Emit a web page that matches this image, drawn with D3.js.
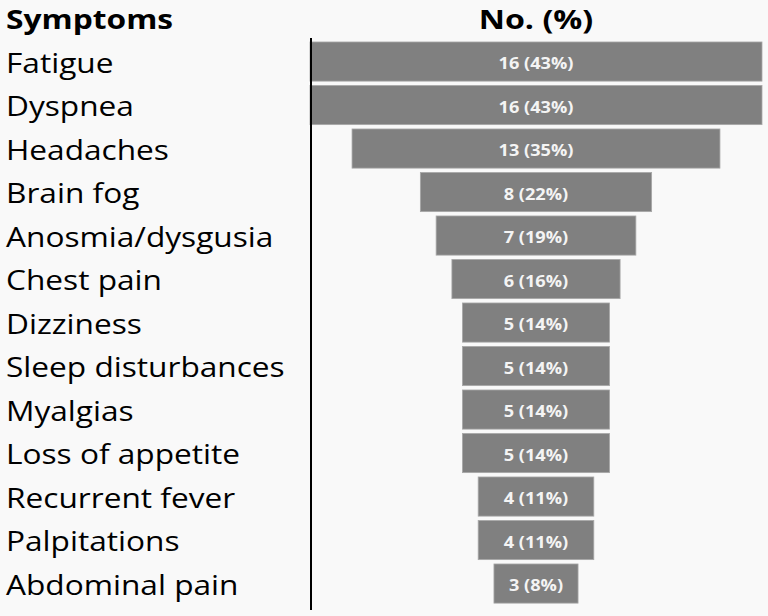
<!DOCTYPE html>
<html>
<head>
<meta charset="utf-8">
<script src="https://cdn.jsdelivr.net/npm/d3@7"></script>
<style>
  body { margin: 0; background: #f9f9f9; }
</style>
</head>
<body>
<div id="vis"></div>
<script>
const w = 768;
const h = 616;

const symptoms = ["Fatigue", "Dyspnea", "Headaches", "Brain fog", "Anosmia/dysgusia", "Chest pain",
    "Dizziness", "Sleep disturbances", "Myalgias", "Loss of appetite", "Recurrent fever",
    "Palpitations", "Abdominal pain"];
const counts = [16, 16, 13, 8, 7, 6, 5, 5, 5, 5, 4, 4, 3];
const percents = [43, 43, 35, 22, 19, 16, 14, 14, 14, 14, 11, 11, 8];

const font = "'Open Sans', sans-serif";
const center = 536;
const axisX = 311;

const svg = d3.select('#vis')
    .append('svg')
    .attr('width', w)
    .attr('height', h)
    .style('background', '#f9f9f9');

let yScale = d3.scaleBand()
    .domain(symptoms)
    .range([39.8, 605.3])
    .paddingInner(0.1)
    .paddingOuter(0.05);

// bar width proportional to percent, centred on one column
let wScale = d3.scaleLinear()
    .domain([0, 43])
    .range([0, 452]);

const rows = symptoms.map((s, i) => ({symptom: s, n: counts[i], pct: percents[i]}));

// the source text is a wide face, so stretch a bit horizontally
const place = (x, y, sx) => `translate(${x},${y}) scale(${sx},1)`;

// headers
svg.append('text')
    .attr('transform', place(6, 29, 1.22))
    .text('Symptoms')
    .attr('font-family', font)
    .attr('font-weight', 'bold')
    .attr('font-size', '26px')
    .attr('fill', '#000');

svg.append('text')
    .attr('transform', place(center, 29, 1.24))
    .attr('text-anchor', 'middle')
    .text('No. (%)')
    .attr('font-family', font)
    .attr('font-weight', 'bold')
    .attr('font-size', '26px')
    .attr('fill', '#000');

svg.selectAll('rect.bar')
    .data(rows)
    .join('rect')
    .attr('class', 'bar')
    .attr('x', d => center - wScale(d.pct) / 2)
    .attr('y', d => yScale(d.symptom))
    .attr('width', d => wScale(d.pct))
    .attr('height', yScale.bandwidth())
    .attr('fill', '#808080')
    .attr('stroke', '#a8a8a8')
    .attr('stroke-width', 0.8);

svg.selectAll('text.val')
    .data(rows)
    .join('text')
    .attr('class', 'val')
    .attr('transform', d => place(center, yScale(d.symptom) + yScale.bandwidth() / 2, 1.1))
    .attr('dy', '0.48em')
    .attr('text-anchor', 'middle')
    .text(d => d.n + ' (' + d.pct + '%)')
    .attr('font-family', font)
    .attr('font-weight', 'bold')
    .attr('font-size', '16.5px')
    .attr('fill', '#f4f4f4');

svg.selectAll('text.lab')
    .data(rows)
    .join('text')
    .attr('class', 'lab')
    .attr('transform', d => place(6, yScale(d.symptom) + yScale.bandwidth() / 2, 1.13))
    .attr('dy', '0.4em')
    .text(d => d.symptom)
    .attr('font-family', font)
    .attr('font-size', '28px')
    .attr('fill', '#000');

svg.append('line')
    .attr('x1', axisX)
    .attr('x2', axisX)
    .attr('y1', 38)
    .attr('y2', 610)
    .attr('stroke', '#000')
    .attr('stroke-width', 2);
</script>
</body>
</html>
